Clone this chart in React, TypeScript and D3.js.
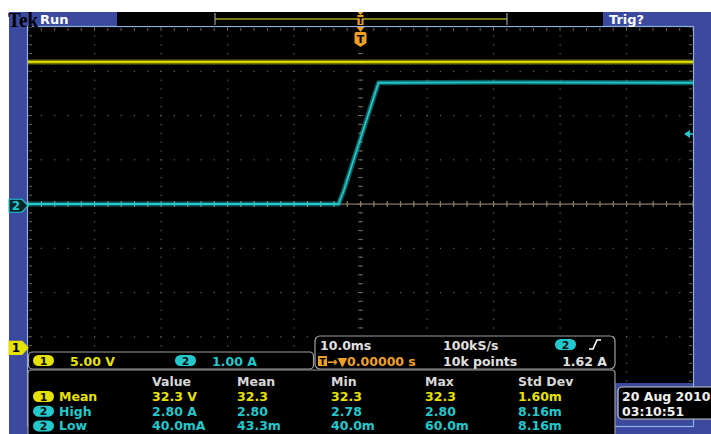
import * as d3 from 'd3';
import React, { useEffect, useRef } from 'react';

// scope settings
const timePerDiv = 10; // ms
const ch1VoltsPerDiv = 5;
const ch2AmpsPerDiv = 1;
const ch1Position = -3.25; // divisions
const ch2Position = -0.04;
const triggerLevel = 1.62; // A

// traces (time in ms, trigger at 0)
const ch1Times = [-50, -20, 0, 20, 50];
const ch1Volts = [32.3, 32.3, 32.3, 32.3, 32.3];
const ch2Times = [-50, -3.3, -2.5, 2.7, 20, 50];
const ch2Amps = [0.04, 0.04, 0.35, 2.78, 2.79, 2.78];

// readouts
const measHeaders = ['Value', 'Mean', 'Min', 'Max', 'Std Dev'];
const measChannels = [1, 2, 2];
const measLabels = ['Mean', 'High', 'Low'];
const measValues = [
  ['32.3 V', '32.3', '32.3', '32.3', '1.60m'],
  ['2.80 A', '2.80', '2.78', '2.80', '8.16m'],
  ['40.0mA', '43.3m', '40.0m', '60.0m', '8.16m'],
];
const measColX = [152, 237, 331, 425, 518];
const dateLines = ['20 Aug 2010', '03:10:51'];

const BLUE = '#3b4a9e';
const YELLOW = '#e6e200';
const CYAN = '#22c8cc';
const ORANGE = '#f0a024';
const GRID = '#6c6450';
const FONT = '"DejaVu Sans", sans-serif';

function Scope() {
  const ref = useRef<SVGSVGElement>(null);

  useEffect(() => {
    draw();
  });

  const draw = () => {
    const W = 711, H = 434;
    const g = { left: 28, right: 693, top: 27, bottom: 381 };

    const x = d3.scaleLinear().domain([-5 * timePerDiv, 5 * timePerDiv]).range([g.left, g.right]);
    const div = d3.scaleLinear().domain([4, -4]).range([g.top, g.bottom]);
    const y1 = (v: number) => div(ch1Position + v / ch1VoltsPerDiv);
    const y2 = (a: number) => div(ch2Position + a / ch2AmpsPerDiv);

    const svg = d3.select(ref.current);
    svg.selectAll('*').remove();

    svg.append('rect').attr('width', W).attr('height', H).attr('fill', '#fff');
    svg.append('rect').attr('x', 9).attr('y', 12).attr('width', W - 9).attr('height', H - 12).attr('fill', BLUE);

    // graticule
    svg.append('rect').attr('x', g.left).attr('y', g.top).attr('width', g.right - g.left).attr('height', 356).attr('fill', '#000');

    const grid = svg.append('g').attr('fill', GRID);
    const minorX = d3.range(0, 51).map(i => x(-50 + i * timePerDiv / 5));
    const minorY = d3.range(0, 41).map(i => div(4 - i / 5));
    d3.range(1, 10).forEach(i => {
      const gx = x(-50 + i * timePerDiv);
      minorY.forEach(yy => grid.append('rect').attr('x', gx - 0.5).attr('y', yy - 0.5).attr('width', 1.2).attr('height', 1.2));
    });
    d3.range(1, 8).forEach(j => {
      const gy = div(4 - j);
      minorX.forEach(xx => grid.append('rect').attr('x', xx - 0.5).attr('y', gy - 0.5).attr('width', 1.2).attr('height', 1.2));
    });
    // center axes with ticks
    const cx = x(0), cy = div(0);
    minorY.forEach(yy => grid.append('rect').attr('x', cx - 2.5).attr('y', yy - 0.5).attr('width', 5).attr('height', 1));
    minorX.forEach(xx => grid.append('rect').attr('x', xx - 0.5).attr('y', cy - 3).attr('width', 1.2).attr('height', 6).attr('fill', '#8a8068'));
    grid.append('rect').attr('x', g.left).attr('y', cy - 0.5).attr('width', g.right - g.left).attr('height', 1.2).attr('fill', '#8a8068');
    // edge ticks
    minorX.forEach(xx => grid.append('rect').attr('x', xx - 0.5).attr('y', g.top + 1).attr('width', 1).attr('height', 3));
    minorY.forEach(yy => grid.append('rect').attr('x', g.right - 4).attr('y', yy - 0.5).attr('width', 3).attr('height', 1));
    minorY.forEach(yy => grid.append('rect').attr('x', g.left + 1).attr('y', yy - 0.5).attr('width', 3).attr('height', 1));

    svg.append('rect').attr('x', g.left - 0.5).attr('y', g.top - 0.5).attr('width', g.right - g.left + 1).attr('height', 400)
      .attr('fill', 'none').attr('stroke', '#8fb2e6').attr('stroke-width', 1.2);

    // traces
    const line1 = d3.line<number>().x((_, i) => x(ch1Times[i])).y(d => y1(d));
    const line2 = d3.line<number>().x((_, i) => x(ch2Times[i])).y(d => y2(d));
    const traces = svg.append('g').attr('fill', 'none').attr('stroke-linejoin', 'round');
    traces.append('path').attr('d', line1(ch1Volts)).attr('stroke', YELLOW).attr('stroke-width', 5).attr('opacity', 0.5);
    traces.append('path').attr('d', line1(ch1Volts)).attr('stroke', YELLOW).attr('stroke-width', 1.8);
    traces.append('path').attr('d', line2(ch2Amps)).attr('stroke', CYAN).attr('stroke-width', 5).attr('opacity', 0.45);
    traces.append('path').attr('d', line2(ch2Amps)).attr('stroke', CYAN).attr('stroke-width', 1.8);

    // top bar
    svg.append('rect').attr('x', 117).attr('y', 12).attr('width', 486).attr('height', 14).attr('fill', '#000');
    svg.append('line').attr('x1', 215).attr('x2', 507).attr('y1', 19).attr('y2', 19).attr('stroke', '#7a7a18').attr('stroke-width', 2);
    [215, 507].forEach(bx => svg.append('line').attr('x1', bx).attr('x2', bx).attr('y1', 13).attr('y2', 25).attr('stroke', '#9a9a9a').attr('stroke-width', 1.2));
    svg.append('text').attr('x', 8).attr('y', 27).attr('font-family', '"Liberation Serif", serif').attr('font-weight', 'bold')
      .attr('font-size', 22).attr('textLength', 30).attr('lengthAdjust', 'spacingAndGlyphs').attr('fill', '#000').text('Tek');
    svg.append('text').attr('x', 40).attr('y', 24).attr('font-family', FONT).attr('font-weight', 'bold')
      .attr('font-size', 13).attr('fill', '#fff').text('Run');
    svg.append('text').attr('x', 609).attr('y', 24).attr('font-family', FONT).attr('font-weight', 'bold')
      .attr('font-size', 13).attr('fill', '#fff').text('Trig?');

    // trigger position markers
    svg.append('path').attr('d', `M${cx - 3},12 L${cx + 3},12 L${cx},15 Z`).attr('fill', ORANGE);
    svg.append('rect').attr('x', cx - 3).attr('y', 15).attr('width', 6).attr('height', 10).attr('fill', ORANGE);
    svg.append('text').attr('x', cx).attr('y', 24).attr('text-anchor', 'middle').attr('font-family', FONT).attr('font-weight', 'bold')
      .attr('font-size', 9).attr('fill', '#000').text('T');
    svg.append('path').attr('d', `M${cx - 4},27 L${cx + 4},27 L${cx},32 Z`).attr('fill', ORANGE);
    svg.append('path').attr('d', `M${cx - 6},34 Q${cx - 6},32 ${cx - 4},32 L${cx + 4},32 Q${cx + 6},32 ${cx + 6},34 L${cx + 6},43 L${cx},47 L${cx - 6},43 Z`).attr('fill', ORANGE);
    svg.append('text').attr('x', cx).attr('y', 43).attr('text-anchor', 'middle').attr('font-family', FONT).attr('font-weight', 'bold')
      .attr('font-size', 11).attr('fill', '#000').text('T');

    // channel ground markers
    const marker = (my: number, label: string, fill: string, stroke: string, tc: string) => {
      svg.append('path').attr('d', `M9,${my - 6.5} L22,${my - 6.5} L28,${my} L22,${my + 6.5} L9,${my + 6.5} Z`)
        .attr('fill', fill).attr('stroke', stroke).attr('stroke-width', 1.2);
      svg.append('text').attr('x', 16).attr('y', my + 4.5).attr('text-anchor', 'middle').attr('font-family', FONT)
        .attr('font-weight', 'bold').attr('font-size', 12).attr('fill', tc).text(label);
    };
    marker(y1(0), '1', YELLOW, YELLOW, '#000');
    marker(y2(0), '2', '#06262a', CYAN, CYAN);

    // trigger level arrow
    const ty = y2(triggerLevel);
    svg.append('path').attr('d', `M684,${ty} L690,${ty - 4} L690,${ty + 4} Z`).attr('fill', CYAN);
    svg.append('line').attr('x1', 688).attr('x2', 693).attr('y1', ty).attr('y2', ty).attr('stroke', CYAN).attr('stroke-width', 1.5);

    const txt = (tx: number, ty2: number, s: string, fill: string, anchor = 'start') =>
      svg.append('text').attr('x', tx).attr('y', ty2).attr('text-anchor', anchor).attr('font-family', FONT)
        .attr('font-weight', 'bold').attr('font-size', 12.5).attr('fill', fill).text(s);
    const pill = (px: number, py: number, label: string, fill: string) => {
      svg.append('rect').attr('x', px).attr('y', py).attr('width', 21).attr('height', 11).attr('rx', 5.5).attr('fill', fill);
      svg.append('text').attr('x', px + 10.5).attr('y', py + 9.5).attr('text-anchor', 'middle').attr('font-family', FONT)
        .attr('font-weight', 'bold').attr('font-size', 11).attr('fill', '#111').text(label);
    };

    // measurement panel
    svg.append('rect').attr('x', 28).attr('y', 370).attr('width', 587).attr('height', 70).attr('fill', '#000')
      .attr('stroke', '#9a9a9a').attr('stroke-width', 1.2).attr('rx', 3);
    measHeaders.forEach((h, i) => txt(measColX[i], 386, h, '#d8d8d8'));
    measLabels.forEach((lab, r) => {
      const ry = 401 + r * 14.7;
      const col = measChannels[r] === 1 ? YELLOW : CYAN;
      pill(33, ry - 10, String(measChannels[r]), col);
      txt(59, ry, lab, col);
      measValues[r].forEach((v, i) => txt(measColX[i], ry, v, col));
    });

    // vertical scale bar
    svg.append('rect').attr('x', 28.5).attr('y', 352).attr('width', 285).attr('height', 17).attr('rx', 4).attr('fill', '#000')
      .attr('stroke', '#a0a0a0').attr('stroke-width', 1.2);
    pill(33, 355, '1', YELLOW);
    txt(70, 366, `${ch1VoltsPerDiv.toFixed(2)} V`, YELLOW);
    pill(175, 355, '2', CYAN);
    txt(212, 366, `${ch2AmpsPerDiv.toFixed(2)} A`, CYAN);

    // horizontal / trigger readout
    svg.append('rect').attr('x', 315).attr('y', 336).attr('width', 300).attr('height', 33).attr('rx', 5).attr('fill', '#000')
      .attr('stroke', '#a0a0a0').attr('stroke-width', 1.2);
    txt(320, 350, `${timePerDiv.toFixed(1)}ms`, '#e0e0e0');
    txt(443, 350, '100kS/s', '#e0e0e0');
    pill(555, 339, '2', CYAN);
    svg.append('path').attr('d', 'M589,349 L593,349 L597,340 L601,340').attr('fill', 'none').attr('stroke', '#fff').attr('stroke-width', 1.6);
    svg.append('rect').attr('x', 318).attr('y', 356).attr('width', 9).attr('height', 10).attr('fill', ORANGE);
    svg.append('text').attr('x', 322.5).attr('y', 365).attr('text-anchor', 'middle').attr('font-family', FONT).attr('font-weight', 'bold')
      .attr('font-size', 9).attr('fill', '#000').text('T');
    txt(327, 366, '→▼0.00000 s', ORANGE);
    txt(443, 366, '10k points', '#e0e0e0');
    txt(607, 366, `${triggerLevel.toFixed(2)} A`, '#e0e0e0', 'end');

    // date box
    svg.append('rect').attr('x', 618).attr('y', 387).attr('width', 100).attr('height', 32).attr('rx', 4).attr('fill', '#000')
      .attr('stroke', '#c8c8c8').attr('stroke-width', 1.2);
    dateLines.forEach((d, i) => txt(622, 401 + i * 15, d, '#f0f0f0'));
  };

  return (
    <svg ref={ref} width={711} height={434} style={{ position: 'absolute', left: 0, top: 0, display: 'block' }} />
  );
}

export default function App() {
  return <Scope />;
}
